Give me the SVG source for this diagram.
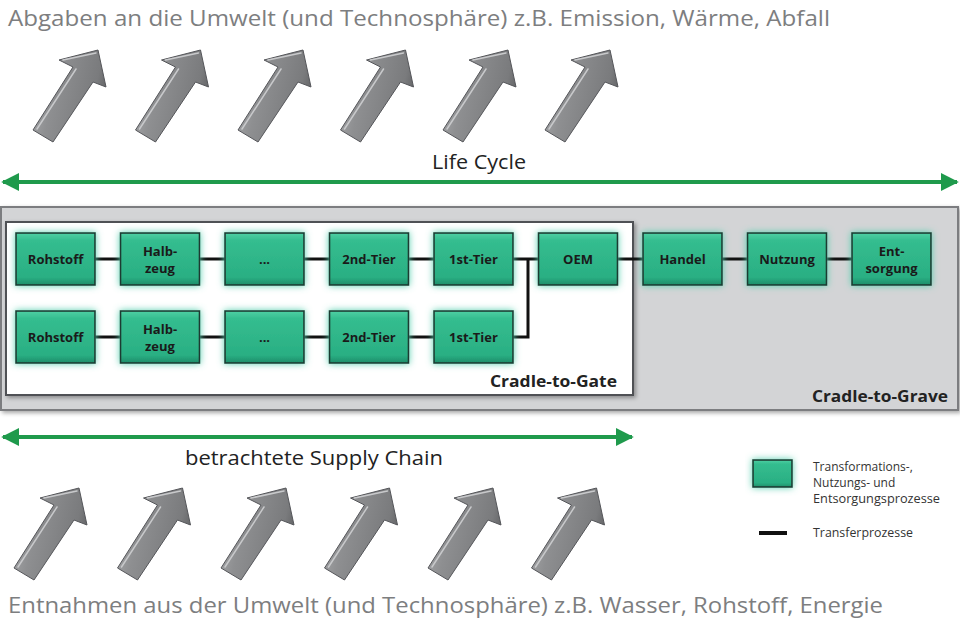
<svg xmlns="http://www.w3.org/2000/svg" width="960" height="621" viewBox="0 0 960 621">
<defs>
<style>
.big{font-family:"Open Sans","Noto Sans","Liberation Sans",sans-serif;font-size:22px;fill:#7d7e80}
.lbl{font-family:"Open Sans","Noto Sans","Liberation Sans",sans-serif;font-size:20px;fill:#222}
.nt{font-family:"Open Sans","Noto Sans","Liberation Sans",sans-serif;font-size:13px;font-weight:700;fill:#1a1a1a;text-anchor:middle}
.zone{font-family:"Open Sans","Noto Sans","Liberation Sans",sans-serif;font-size:16.5px;font-weight:700;fill:#222;text-anchor:end}
.leg{font-family:"Open Sans","Noto Sans","Liberation Sans",sans-serif;font-size:12px;fill:#333}
.node{fill:url(#ng);stroke:#1e3a31;stroke-width:1.6;filter:url(#glow)}
.conn{stroke:#111;stroke-width:3;fill:none}
.garrow{stroke:#1f9a4c;stroke-width:4;fill:none}
</style>
<linearGradient id="ng" x1="0" y1="0" x2="0" y2="1">
<stop offset="0" stop-color="#4fd0a4"/>
<stop offset="0.15" stop-color="#34bd8f"/>
<stop offset="0.85" stop-color="#2aaf83"/>
<stop offset="1" stop-color="#1d8d69"/>
</linearGradient>
<linearGradient id="ag" x1="0" y1="0.35" x2="1" y2="0.65">
<stop offset="0" stop-color="#a9aaac"/>
<stop offset="0.3" stop-color="#8e8f91"/>
<stop offset="0.8" stop-color="#7a7b7d"/>
<stop offset="1" stop-color="#5c5d5f"/>
</linearGradient>
<filter id="glow" x="-20%" y="-30%" width="140%" height="160%">
<feGaussianBlur in="SourceAlpha" stdDeviation="3.5" result="b"/>
<feFlood flood-color="#55cfae" flood-opacity="1"/>
<feComposite in2="b" operator="in" result="g"/>
<feMerge><feMergeNode in="g"/><feMergeNode in="SourceGraphic"/></feMerge>
</filter>
<filter id="shadow" x="-5%" y="-5%" width="110%" height="115%">
<feGaussianBlur in="SourceAlpha" stdDeviation="2" result="b"/>
<feOffset dx="2" dy="2" result="o"/>
<feFlood flood-color="#000" flood-opacity="0.35"/>
<feComposite in2="o" operator="in" result="s"/>
<feMerge><feMergeNode in="s"/><feMergeNode in="SourceGraphic"/></feMerge>
</filter>
<g id="arr">
<path d="M0,0 L8,37 L-5,32 L-45,92 L-65,80 L-25,17 L-39,10 Z" fill="url(#ag)" stroke="#55565a" stroke-width="1"/>
<path d="M-61,79 L-22,19 M-35,10 L-2,3" stroke="#c8c9cb" stroke-width="1.5" fill="none" stroke-linecap="round"/>
</g>
<marker id="gh" viewBox="0 0 10 10" refX="9" refY="5" markerWidth="4.5" markerHeight="4.5" orient="auto-start-reverse" markerUnits="strokeWidth">
<path d="M0,0 L10,5 L0,10 Z" fill="#1f9a4c"/>
</marker>
</defs>
<rect width="960" height="621" fill="#fff"/>

<text class="big" x="8" y="26" textLength="822" lengthAdjust="spacingAndGlyphs">Abgaben an die Umwelt (und Technosphäre) z.B. Emission, Wärme, Abfall</text>

<g id="top-arrows">
<use href="#arr" x="98" y="50"/>
<use href="#arr" x="200.5" y="50"/>
<use href="#arr" x="303" y="50"/>
<use href="#arr" x="405.5" y="50"/>
<use href="#arr" x="508" y="50"/>
<use href="#arr" x="610" y="50"/>
</g>

<text class="lbl" x="479" y="169" text-anchor="middle" textLength="94" lengthAdjust="spacingAndGlyphs">Life Cycle</text>
<line class="garrow" x1="3" y1="182" x2="957" y2="182" marker-start="url(#gh)" marker-end="url(#gh)"/>

<g id="cradle-to-grave">
<rect x="1" y="207" width="957" height="203" fill="#d3d4d6" stroke="#7c7d80" stroke-width="2" filter="url(#shadow)"/>
<text class="zone" x="948" y="402" textLength="136" lengthAdjust="spacingAndGlyphs">Cradle-to-Grave</text>
</g>
<g id="cradle-to-gate">
<rect x="6" y="222" width="627" height="173" fill="#fff" stroke="#505154" stroke-width="2" filter="url(#shadow)"/>
<text class="zone" x="617" y="387" textLength="127" lengthAdjust="spacingAndGlyphs">Cradle-to-Gate</text>
</g>

<g id="connectors">
<line class="conn" x1="95" y1="259" x2="120" y2="259"/>
<line class="conn" x1="200" y1="259" x2="225" y2="259"/>
<line class="conn" x1="304" y1="259" x2="329" y2="259"/>
<line class="conn" x1="408" y1="259" x2="434" y2="259"/>
<line class="conn" x1="513" y1="259" x2="538" y2="259"/>
<line class="conn" x1="617" y1="259" x2="643" y2="259"/>
<line class="conn" x1="722" y1="259" x2="747" y2="259"/>
<line class="conn" x1="826" y1="259" x2="852" y2="259"/>
<line class="conn" x1="95" y1="337" x2="120" y2="337"/>
<line class="conn" x1="200" y1="337" x2="225" y2="337"/>
<line class="conn" x1="304" y1="337" x2="329" y2="337"/>
<line class="conn" x1="408" y1="337" x2="434" y2="337"/>
<polyline class="conn" points="513,337 528,337 528,259"/>
</g>

<g id="n-rohstoff-1"><rect class="node" x="16" y="233" width="79" height="52"/><text class="nt" x="55.5" y="264">Rohstoff</text></g>
<g id="n-halbzeug-1"><rect class="node" x="120.5" y="233" width="79" height="52"/><text class="nt" x="160" y="256">Halb-</text><text class="nt" x="160" y="273">zeug</text></g>
<g id="n-dots-1"><rect class="node" x="225" y="233" width="79" height="52"/><text class="nt" x="264.5" y="264">...</text></g>
<g id="n-2ndtier-1"><rect class="node" x="329.5" y="233" width="79" height="52"/><text class="nt" x="369" y="264">2nd-Tier</text></g>
<g id="n-1sttier-1"><rect class="node" x="434" y="233" width="79" height="52"/><text class="nt" x="473.5" y="264">1st-Tier</text></g>
<g id="n-oem"><rect class="node" x="538.5" y="233" width="79" height="52"/><text class="nt" x="578" y="264">OEM</text></g>
<g id="n-handel"><rect class="node" x="643" y="233" width="79" height="52"/><text class="nt" x="682.5" y="264">Handel</text></g>
<g id="n-nutzung"><rect class="node" x="747.5" y="233" width="79" height="52"/><text class="nt" x="787" y="264">Nutzung</text></g>
<g id="n-entsorgung"><rect class="node" x="852" y="233" width="79" height="52"/><text class="nt" x="891.5" y="256">Ent-</text><text class="nt" x="891.5" y="273">sorgung</text></g>

<g id="n-rohstoff-2"><rect class="node" x="16" y="311" width="79" height="52"/><text class="nt" x="55.5" y="342">Rohstoff</text></g>
<g id="n-halbzeug-2"><rect class="node" x="120.5" y="311" width="79" height="52"/><text class="nt" x="160" y="334">Halb-</text><text class="nt" x="160" y="351">zeug</text></g>
<g id="n-dots-2"><rect class="node" x="225" y="311" width="79" height="52"/><text class="nt" x="264.5" y="342">...</text></g>
<g id="n-2ndtier-2"><rect class="node" x="329.5" y="311" width="79" height="52"/><text class="nt" x="369" y="342">2nd-Tier</text></g>
<g id="n-1sttier-2"><rect class="node" x="434" y="311" width="79" height="52"/><text class="nt" x="473.5" y="342">1st-Tier</text></g>

<line class="garrow" x1="3" y1="437" x2="632" y2="437" marker-start="url(#gh)" marker-end="url(#gh)"/>
<text class="lbl" x="314" y="465" text-anchor="middle" textLength="258" lengthAdjust="spacingAndGlyphs">betrachtete Supply Chain</text>

<g id="legend">
<rect class="node" x="753" y="460" width="39" height="27"/>
<text class="leg" x="813" y="471">Transformations-,</text>
<text class="leg" x="813" y="487">Nutzungs- und</text>
<text class="leg" x="813" y="503" textLength="127" lengthAdjust="spacingAndGlyphs">Entsorgungsprozesse</text>
<line x1="759" y1="533" x2="787" y2="533" stroke="#111" stroke-width="4"/>
<text class="leg" x="813" y="537" textLength="100" lengthAdjust="spacingAndGlyphs">Transferprozesse</text>
</g>

<g id="bottom-arrows">
<use href="#arr" x="79" y="488"/>
<use href="#arr" x="182.5" y="488"/>
<use href="#arr" x="286" y="488"/>
<use href="#arr" x="389.5" y="488"/>
<use href="#arr" x="493" y="488"/>
<use href="#arr" x="596.5" y="488"/>
</g>

<text class="big" x="8" y="613" textLength="875" lengthAdjust="spacingAndGlyphs">Entnahmen aus der Umwelt (und Technosphäre) z.B. Wasser, Rohstoff, Energie</text>
</svg>
